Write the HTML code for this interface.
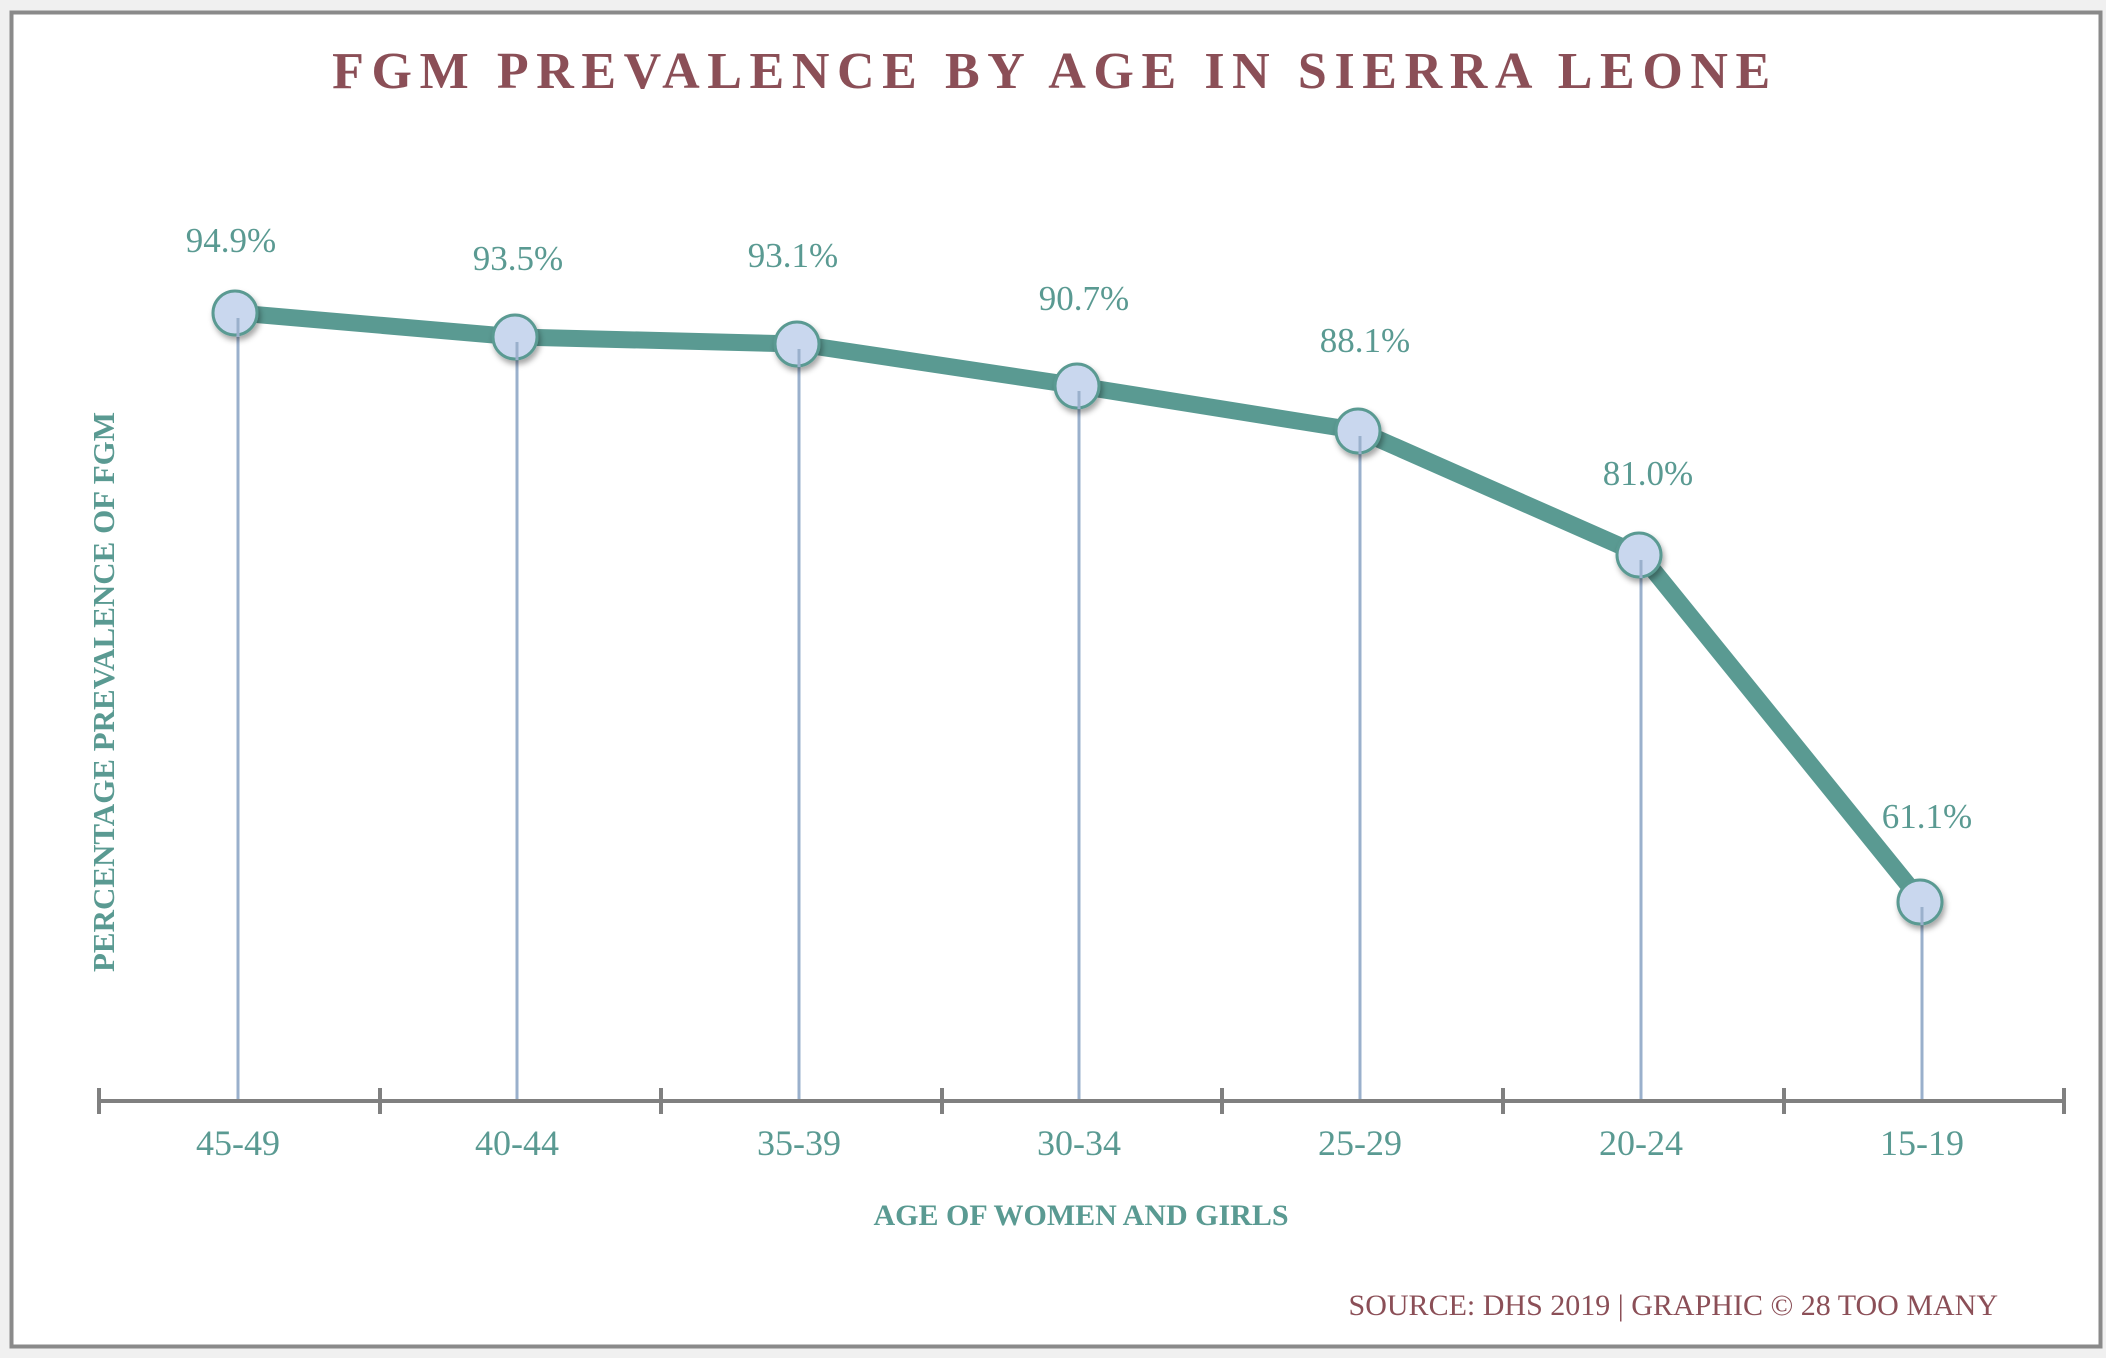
<!DOCTYPE html>
<html><head><meta charset="utf-8"><style>
html,body{margin:0;padding:0;background:#f0f0f0;}
svg{display:block;}
</style></head><body>
<svg width="2106" height="1358" xmlns="http://www.w3.org/2000/svg">
<defs><filter id="sh" x="-50%" y="-50%" width="200%" height="200%"><feDropShadow dx="2" dy="4" stdDeviation="3" flood-color="#000" flood-opacity="0.35"/></filter></defs>
<rect x="0" y="0" width="2106" height="1358" fill="#f0f0f0"/>
<rect x="11.5" y="12.5" width="2089" height="1334" fill="#fff" stroke="#8a8a8a" stroke-width="4"/>
<text x="1055" y="88" text-anchor="middle" font-family="Liberation Serif, serif" font-weight="bold" font-size="52" letter-spacing="7.6" fill="#8b4f57">FGM PREVALENCE BY AGE IN SIERRA LEONE</text>
<g stroke="#9ab0cc" stroke-width="3">
<line x1="238" y1="313" x2="238" y2="1101"/>
<line x1="517" y1="337" x2="517" y2="1101"/>
<line x1="799" y1="344" x2="799" y2="1101"/>
<line x1="1079" y1="386" x2="1079" y2="1101"/>
<line x1="1360" y1="431" x2="1360" y2="1101"/>
<line x1="1641" y1="555" x2="1641" y2="1101"/>
<line x1="1922" y1="902" x2="1922" y2="1101"/>
</g>
<g stroke="#808080" stroke-width="4">
<line x1="99" y1="1101" x2="2064" y2="1101"/>
<line x1="99" y1="1088" x2="99" y2="1114"/>
<line x1="380" y1="1088" x2="380" y2="1114"/>
<line x1="661" y1="1088" x2="661" y2="1114"/>
<line x1="942" y1="1088" x2="942" y2="1114"/>
<line x1="1222" y1="1088" x2="1222" y2="1114"/>
<line x1="1503" y1="1088" x2="1503" y2="1114"/>
<line x1="1784" y1="1088" x2="1784" y2="1114"/>
<line x1="2064" y1="1088" x2="2064" y2="1114"/>
</g>
<polyline points="238,313 517,337 799,344 1079,386 1360,431 1641,555 1922,902" fill="none" stroke="#5a9a92" stroke-width="17" stroke-linejoin="round"/>
<g fill="#c9d7ee" stroke="#5a9a92" stroke-width="3" filter="url(#sh)">
<circle cx="235" cy="313" r="22"/><circle cx="515" cy="337" r="22"/><circle cx="797" cy="344" r="22"/><circle cx="1077" cy="386" r="22"/><circle cx="1358" cy="431" r="22"/><circle cx="1639" cy="555" r="22"/><circle cx="1920" cy="902" r="22"/>
</g>
<g stroke="#9ab0cc" stroke-width="3">
<line x1="238" y1="318" x2="238" y2="337"/><line x1="517" y1="342" x2="517" y2="360"/><line x1="799" y1="349" x2="799" y2="367"/><line x1="1079" y1="391" x2="1079" y2="409"/><line x1="1360" y1="436" x2="1360" y2="454"/><line x1="1641" y1="560" x2="1641" y2="578"/><line x1="1922" y1="907" x2="1922" y2="925"/>
</g>
<g font-family="Liberation Serif, serif" font-size="35" fill="#5a9a92" text-anchor="middle">
<text x="231" y="252">94.9%</text>
<text x="518" y="270">93.5%</text>
<text x="793" y="267">93.1%</text>
<text x="1084" y="310">90.7%</text>
<text x="1365" y="352">88.1%</text>
<text x="1648" y="485">81.0%</text>
<text x="1927" y="828">61.1%</text>
</g>
<g font-family="Liberation Serif, serif" font-size="36" fill="#5a9a92" text-anchor="middle">
<text x="238" y="1155">45-49</text>
<text x="517" y="1155">40-44</text>
<text x="799" y="1155">35-39</text>
<text x="1079" y="1155">30-34</text>
<text x="1360" y="1155">25-29</text>
<text x="1641" y="1155">20-24</text>
<text x="1922" y="1155">15-19</text>
</g>
<text x="1081" y="1225" text-anchor="middle" font-family="Liberation Serif, serif" font-weight="bold" font-size="30" fill="#5a9a92">AGE OF WOMEN AND GIRLS</text>
<text transform="translate(114,692) rotate(-90)" text-anchor="middle" font-family="Liberation Serif, serif" font-weight="bold" font-size="31" fill="#5a9a92">PERCENTAGE PREVALENCE OF FGM</text>
<text x="1998" y="1315" text-anchor="end" font-family="Liberation Serif, serif" font-size="30" fill="#8b4f57">SOURCE: DHS 2019 | GRAPHIC © 28 TOO MANY</text>
</svg>
</body></html>
